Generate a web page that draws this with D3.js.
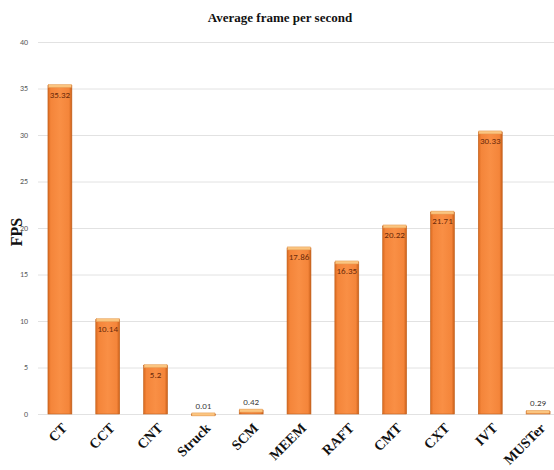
<!DOCTYPE html>
<html>
<head>
<meta charset="utf-8">
<script src="https://cdn.jsdelivr.net/npm/d3@7"></script>
<style>
  body { margin: 0; background: #fff; }
</style>
</head>
<body>
<div id="chart"></div>
<script>
const trackers = ['CT', 'CCT', 'CNT', 'Struck', 'SCM', 'MEEM', 'RAFT', 'CMT', 'CXT', 'IVT', 'MUSTer']
const fps = [35.32, 10.14, 5.2, 0.01, 0.42, 17.86, 16.35, 20.22, 21.71, 30.33, 0.29]
const yTicks = [0, 5, 10, 15, 20, 25, 30, 35, 40]

const width = 554, height = 470

const svg = d3.select('#chart')
  .append('svg')
    .attr('width', width)
    .attr('height', height)

const defs = svg.append('defs')
const grad = defs.append('linearGradient')
    .attr('id', 'barGrad')
    .attr('x1', '0%').attr('x2', '100%')
    .attr('y1', '0%').attr('y2', '0%')
grad.append('stop').attr('offset', '0%').attr('stop-color', '#d9691f')
grad.append('stop').attr('offset', '12%').attr('stop-color', '#f4853a')
grad.append('stop').attr('offset', '50%').attr('stop-color', '#f98f45')
grad.append('stop').attr('offset', '88%').attr('stop-color', '#f4853a')
grad.append('stop').attr('offset', '100%').attr('stop-color', '#c95e18')

const x = d3.scaleBand()
  .domain(trackers)
  .range([36, 562])
  .paddingInner(0.5)
  .paddingOuter(0.25)

const y = d3.scaleLinear()
  .domain([0, 40])
  .range([414, 42])

// gridlines
svg.append('g')
  .selectAll('line')
  .data(yTicks)
  .join('line')
    .attr('x1', 38)
    .attr('x2', width)
    .attr('y1', d => y(d) + 0.5)
    .attr('y2', d => y(d) + 0.5)
    .style('stroke', '#e2e2e2')
    .style('stroke-width', 1)

// y tick labels
svg.append('g')
  .selectAll('text')
  .data(yTicks)
  .join('text')
    .attr('x', 28)
    .attr('y', d => y(d))
    .attr('dy', '0.35em')
    .attr('text-anchor', 'end')
    .style('font-family', 'Calibri, Carlito, "Liberation Sans", sans-serif')
    .style('font-size', '8px')
    .style('fill', '#595959')
    .text(d => d)

// bars
const bars = svg.append('g')
  .selectAll('g')
  .data(trackers)
  .join('g')

bars.append('rect')
  .attr('x', d => x(d))
  .attr('y', (d, i) => y(fps[i]))
  .attr('width', x.bandwidth())
  .attr('height', (d, i) => Math.max(1.5, y(0) - y(fps[i])))
  .style('fill', 'url(#barGrad)')
  .style('stroke', '#c0601c')
  .style('stroke-width', 0.6)

// top cap highlight
bars.append('rect')
  .attr('x', d => x(d) + 0.5)
  .attr('y', (d, i) => y(fps[i]) - 1)
  .attr('width', x.bandwidth() - 1)
  .attr('height', 3)
  .style('fill', '#fbc580')
  .style('stroke', '#e39a52')
  .style('stroke-width', 0.5)

// value labels
bars.append('text')
  .attr('x', d => x(d) + x.bandwidth() / 2)
  .attr('y', (d, i) => fps[i] > 2 ? y(fps[i]) + 12 : y(fps[i]) - 5)
  .attr('text-anchor', 'middle')
  .style('font-family', 'Calibri, Carlito, "Liberation Sans", sans-serif')
  .style('font-size', '9px')
  .style('fill', (d, i) => fps[i] > 2 ? '#6b2a0a' : '#404040')
  .text((d, i) => fps[i])

// x axis labels
svg.append('g')
  .selectAll('text')
  .data(trackers)
  .join('text')
    .attr('transform', d => `translate(${x(d) + x.bandwidth() / 2 + 8}, 429) rotate(-45)`)
    .attr('text-anchor', 'end')
    .style('font-family', '"Liberation Serif", "Times New Roman", serif')
    .style('font-weight', 'bold')
    .style('font-size', '14px')
    .style('fill', '#111')
    .text(d => d)

// title
svg.append('text')
  .attr('x', 280)
  .attr('y', 22)
  .attr('text-anchor', 'middle')
  .style('font-family', '"Liberation Serif", "Times New Roman", serif')
  .style('font-weight', 'bold')
  .style('font-size', '13px')
  .style('fill', '#111')
  .text('Average frame per second')

// y axis title
svg.append('text')
  .attr('transform', 'translate(22, 232) rotate(-90)')
  .attr('text-anchor', 'middle')
  .style('font-family', '"Liberation Serif", "Times New Roman", serif')
  .style('font-weight', 'bold')
  .style('font-size', '16px')
  .style('fill', '#111')
  .text('FPS')
</script>
</body>
</html>
